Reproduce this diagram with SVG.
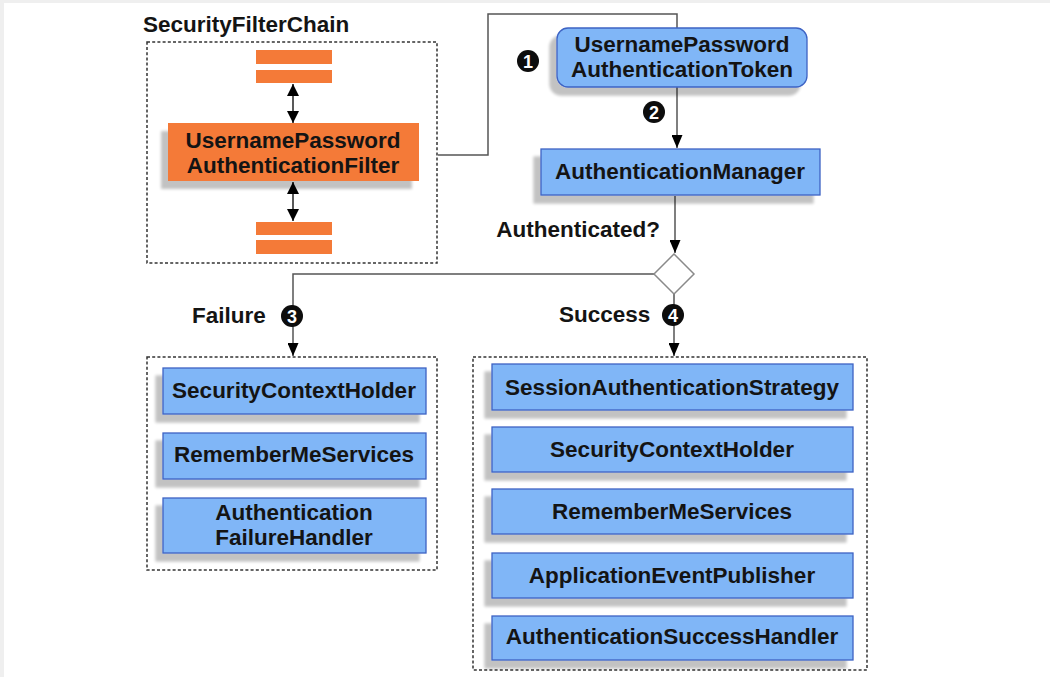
<svg xmlns="http://www.w3.org/2000/svg" width="1050" height="677" viewBox="0 0 1050 677">
<style>
text{font-family:"Liberation Sans",Arial,sans-serif;font-weight:bold;font-size:22.5px;fill:#141414}
.c{text-anchor:middle}
.blue{fill:#80b6f7;stroke:#3d63c4;stroke-width:1.3}
.orange{fill:#f47a38}
.dash{fill:none;stroke:#333;stroke-width:1.5;stroke-dasharray:3 2.2}
.line{fill:none;stroke:#555;stroke-width:1.5}
.dbl{fill:none;stroke:#222;stroke-width:1.5}
.badge circle{fill:#0d0d0d}
.badge text{fill:#fff;font-size:18px;text-anchor:middle}
</style>
<defs>
<filter id="sh" x="-10%" y="-20%" width="120%" height="150%">
<feGaussianBlur in="SourceAlpha" stdDeviation="1.6"/>
<feOffset dx="-7" dy="8"/>
<feComponentTransfer><feFuncA type="linear" slope="0.24"/></feComponentTransfer>
<feMerge><feMergeNode/><feMergeNode in="SourceGraphic"/></feMerge>
</filter>
<marker id="ah" viewBox="0 0 13 11" refX="13" refY="5.5" markerWidth="13" markerHeight="11" markerUnits="userSpaceOnUse" orient="auto">
<path d="M0,0 L13,5.5 L0,11 Z" fill="#000"/>
</marker>
<marker id="dh" viewBox="0 0 12 12" refX="12" refY="6" markerWidth="12" markerHeight="12" markerUnits="userSpaceOnUse" orient="auto">
<path d="M0,0 L12,6 L0,12 Z" fill="#000"/>
</marker>
<marker id="ds" viewBox="0 0 12 12" refX="0" refY="6" markerWidth="12" markerHeight="12" markerUnits="userSpaceOnUse" orient="auto">
<path d="M12,0 L0,6 L12,12 Z" fill="#000"/>
</marker>
</defs>
<rect width="1050" height="677" fill="#fff"/>
<rect x="0" y="0" width="1050" height="3" fill="#efefef"/>
<rect x="0" y="0" width="4" height="677" fill="#efefef"/>

<g id="connectors">
<line class="dbl" x1="293" y1="84" x2="293" y2="123" marker-start="url(#ds)" marker-end="url(#dh)"/>
<line class="dbl" x1="293" y1="182" x2="293" y2="221" marker-start="url(#ds)" marker-end="url(#dh)"/>
<polyline class="line" points="438,155 488,155 488,14 677,14 677,148" marker-end="url(#ah)"/>
<line class="line" x1="675" y1="196" x2="675" y2="253" marker-end="url(#ah)"/>
<polyline class="line" points="654,274 293,274 293,356" marker-end="url(#ah)"/>
<line class="line" x1="674" y1="294" x2="674" y2="356" marker-end="url(#ah)"/>
</g>

<g id="securityFilterChain">
<text x="143" y="32">SecurityFilterChain</text>
<rect class="dash" x="147" y="42" width="290" height="221"/>
</g>
<g id="filterTop">
<rect class="orange" x="256" y="50" width="76" height="14"/>
<rect class="orange" x="256" y="70" width="76" height="13"/>
</g>
<g id="usernamePasswordAuthenticationFilter">
<rect class="orange" x="168" y="123" width="251" height="58" filter="url(#sh)"/>
<text class="c" x="293" y="148">UsernamePassword</text>
<text class="c" x="293" y="173">AuthenticationFilter</text>
</g>
<g id="filterBottom">
<rect class="orange" x="256" y="222" width="76" height="13"/>
<rect class="orange" x="256" y="240" width="76" height="14"/>
</g>

<g id="token">
<rect class="blue" x="557" y="28" width="250" height="59" rx="11" filter="url(#sh)"/>
<text class="c" x="682" y="52">UsernamePassword</text>
<text class="c" x="682" y="77">AuthenticationToken</text>
</g>
<g id="authenticationManager">
<rect class="blue" x="541" y="149" width="279" height="46" filter="url(#sh)"/>
<text class="c" x="680" y="179">AuthenticationManager</text>
</g>
<g id="decision">
<text x="660" y="237" text-anchor="end">Authenticated?</text>
<path d="M674,254 L694,274 L674,294 L654,274 Z" fill="#fff" stroke="#8a8a8a" stroke-width="1.5"/>
</g>

<g id="badge1" class="badge"><circle cx="528" cy="61" r="11"/><text x="528" y="67.5">1</text></g>
<g id="badge2" class="badge"><circle cx="654" cy="112" r="11"/><text x="654" y="118.5">2</text></g>
<g id="badge3" class="badge"><circle cx="292" cy="316" r="11"/><text x="292" y="322.5">3</text></g>
<g id="badge4" class="badge"><circle cx="673" cy="315" r="11"/><text x="673" y="321.5">4</text></g>

<g id="failure">
<text x="192" y="323">Failure</text>
<rect class="dash" x="147" y="357" width="290" height="213"/>
</g>
<g id="failSecurityContextHolder">
<rect class="blue" x="163" y="368" width="263" height="46" filter="url(#sh)"/>
<text class="c" x="294" y="398">SecurityContextHolder</text>
</g>
<g id="failRememberMeServices">
<rect class="blue" x="163" y="433" width="263" height="46" filter="url(#sh)"/>
<text class="c" x="294" y="462">RememberMeServices</text>
</g>
<g id="authenticationFailureHandler">
<rect class="blue" x="163" y="498" width="263" height="55" filter="url(#sh)"/>
<text class="c" x="294" y="520">Authentication</text>
<text class="c" x="294" y="545">FailureHandler</text>
</g>

<g id="success">
<text x="559" y="322">Success</text>
<rect class="dash" x="473" y="357" width="394" height="313"/>
</g>
<g id="sessionAuthenticationStrategy">
<rect class="blue" x="492" y="364" width="361" height="46" filter="url(#sh)"/>
<text class="c" x="672" y="395">SessionAuthenticationStrategy</text>
</g>
<g id="succSecurityContextHolder">
<rect class="blue" x="492" y="427" width="361" height="45" filter="url(#sh)"/>
<text class="c" x="672" y="457">SecurityContextHolder</text>
</g>
<g id="succRememberMeServices">
<rect class="blue" x="492" y="489" width="361" height="45" filter="url(#sh)"/>
<text class="c" x="672" y="519">RememberMeServices</text>
</g>
<g id="applicationEventPublisher">
<rect class="blue" x="492" y="553" width="361" height="45" filter="url(#sh)"/>
<text class="c" x="672" y="583">ApplicationEventPublisher</text>
</g>
<g id="authenticationSuccessHandler">
<rect class="blue" x="492" y="616" width="361" height="44" filter="url(#sh)"/>
<text class="c" x="672" y="644">AuthenticationSuccessHandler</text>
</g>
</svg>
